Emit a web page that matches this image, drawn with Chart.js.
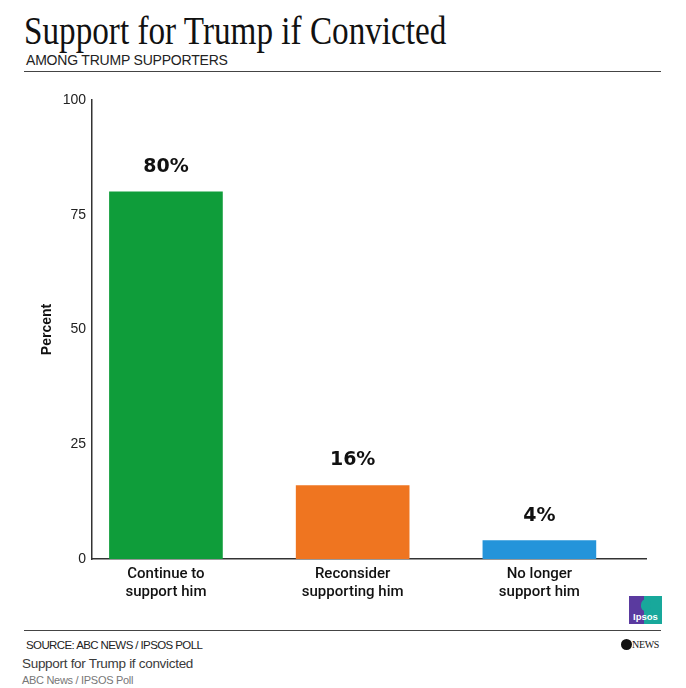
<!DOCTYPE html>
<html>
<head>
<meta charset="utf-8">
<script src="https://cdn.jsdelivr.net/npm/chart.js@4.4.1/dist/chart.umd.min.js"></script>
<style>
  body { margin: 0; background: #fff; }
  #wrap { position: relative; width: 686px; height: 688px; overflow: hidden; font-family: "Liberation Sans", Arial, sans-serif; }
  .abs { position: absolute; white-space: nowrap; }
  #title { left: 24px; top: 11px; font-family: "Liberation Serif", serif; font-size: 40px; line-height: 40px; color: #111; transform: scaleX(0.83); transform-origin: left top; }
  #subtitle { left: 26px; top: 52px; font-size: 14px; line-height: 16px; color: #222; letter-spacing: -0.2px; }
  .rule { position: absolute; left: 24px; width: 637px; height: 0; border-top: 1.5px solid #444; }
  #source { left: 26px; top: 638px; font-size: 11.5px; line-height: 14px; color: #222; letter-spacing: -0.6px; }
  #cap1 { left: 22px; top: 656px; font-size: 13.5px; line-height: 16px; color: #3a3a3a; letter-spacing: -0.3px; }
  #cap2 { left: 22px; top: 673px; font-size: 11px; line-height: 14px; color: #777; letter-spacing: -0.3px; }
  #ipsos { position: absolute; left: 629px; top: 596px; width: 33px; height: 28px; background: linear-gradient(90deg, #5a3a9f 0 46%, #18a89b 46% 100%); }
  #ipsos span { position: absolute; left: 0; width: 33px; bottom: 2px; text-align: center; color: #fff; font-size: 9.5px; font-weight: bold; line-height: 10px; }
  #head { position: absolute; left: 12px; top: 3px; width: 10px; height: 12px; border-radius: 50% 50% 40% 40%; background: #18a89b; }
  #abc { position: absolute; left: 621px; top: 639px; width: 11px; height: 11px; border-radius: 50%; background: #111; }
  #news { left: 632px; top: 638px; font-family: "Liberation Serif", serif; font-size: 10px; line-height: 13px; color: #111; letter-spacing: -0.3px; }
  canvas { position: absolute; left: 0; top: 80px; }
</style>
</head>
<body>
<div id="wrap">
  <div class="abs" id="title">Support for Trump if Convicted</div>
  <div class="abs" id="subtitle">AMONG TRUMP SUPPORTERS</div>
  <div class="rule" style="top:71px"></div>
  <canvas id="bar-chart" width="686" height="540"></canvas>
  <div id="ipsos"><div id="head"></div><span>Ipsos</span></div>
  <div class="rule" style="top:630px"></div>
  <div class="abs" id="source">SOURCE: ABC NEWS / IPSOS POLL</div>
  <div id="abc"></div>
  <div class="abs" id="news">NEWS</div>
  <div class="abs" id="cap1">Support for Trump if convicted</div>
  <div class="abs" id="cap2">ABC News / IPSOS Poll</div>
</div>
<script>
const categories = [['Continue to', 'support him'], ['Reconsider', 'supporting him'], ['No longer', 'support him']];
const percents = [80, 16, 4];
const barColors = ['#0f9d3a', '#ef7520', '#2494da'];
const yTicks = [0, 25, 50, 75, 100];

const ctx = document.getElementById('bar-chart');

const valueLabels = {
  id: 'valueLabels',
  afterDatasetsDraw(chart) {
    const c = chart.ctx;
    const meta = chart.getDatasetMeta(0);
    c.save();
    c.font = 'bold 19px "DejaVu Sans"';
    c.fillStyle = '#111';
    c.textAlign = 'center';
    c.textBaseline = 'middle';
    meta.data.forEach((bar, i) => {
      c.fillText(percents[i] + '%', bar.x, bar.y - 25);
    });
    c.restore();
  }
};

const graph = new Chart(ctx, {
  type: 'bar',
  data: {
    datasets: [{
      data: percents.map((v, i) => ({ x: i, y: v })),
      backgroundColor: barColors,
      barThickness: 113,
    }]
  },
  options: {
    responsive: false,
    animation: false,
    layout: { padding: { top: 20, right: 40, left: 0, bottom: 0 } },
    plugins: { legend: { display: false }, tooltip: { enabled: false } },
    scales: {
      x: {
        type: 'linear',
        offset: false,
        min: -0.396,
        max: 2.571,
        grid: { display: false, drawTicks: false },
        border: { display: true, color: '#333', width: 1.5 },
        afterBuildTicks: (scale) => { scale.ticks = categories.map((c, i) => ({ value: i })); },
        afterFit: (scale) => { scale.height = 61; },
        ticks: {
          padding: 6,
          color: '#111',
          font: { family: 'Roboto', size: 15, weight: 500, lineHeight: 1.2 },
          callback: (v) => categories[v],
        }
      },
      y: {
        min: 0,
        max: 100,
        grid: { display: false, drawTicks: false },
        border: { display: true, color: '#333', width: 1.5 },
        afterBuildTicks: (scale) => { scale.ticks = yTicks.map(v => ({ value: v })); },
        afterFit: (scale) => { scale.width = 92; },
        ticks: {
          padding: 6,
          color: '#222',
          font: { family: '"Liberation Sans"', size: 14 },
        },
        title: {
          display: true,
          text: 'Percent',
          color: '#111',
          font: { family: '"Liberation Sans"', size: 14, weight: 'bold' },
          padding: { top: 39, bottom: 0 },
        }
      }
    }
  },
  plugins: [valueLabels]
});
</script>
</body>
</html>
